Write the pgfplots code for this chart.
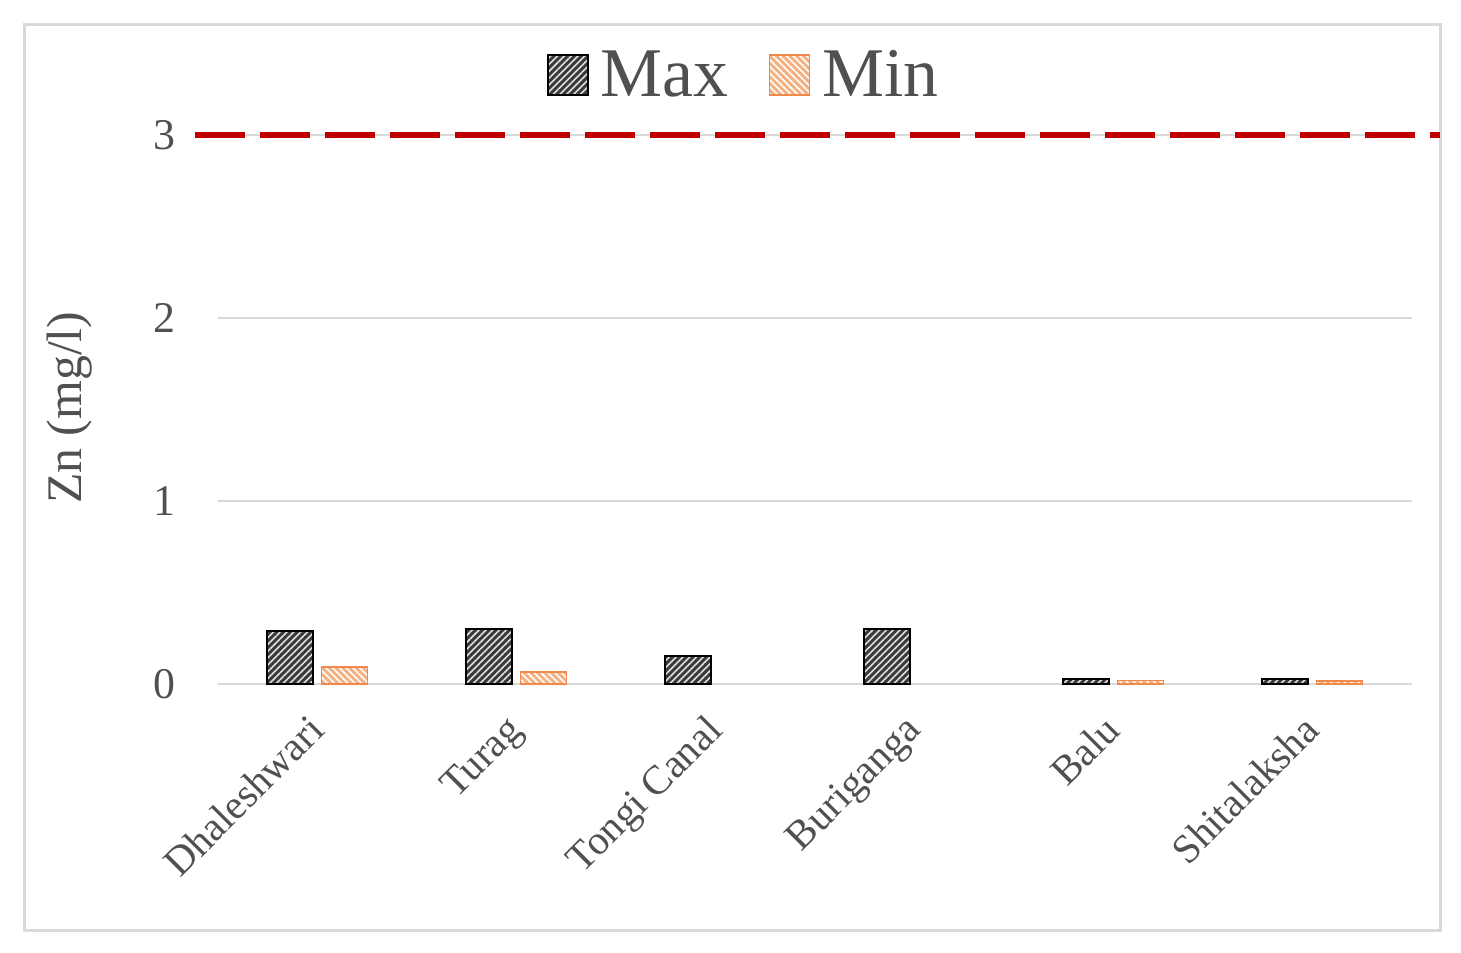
\documentclass[border=0pt]{standalone}
\usepackage{pgfplots}
\pgfplotsset{compat=1.18}
\usepackage{fontspec}
\setmainfont{Liberation Serif}
\usetikzlibrary{patterns.meta}
\definecolor{txt}{HTML}{505050}
\definecolor{maxfill}{HTML}{3A3A3A}
\definecolor{minfill}{HTML}{F4B183}
\definecolor{minedge}{HTML}{F08A4B}
\definecolor{gridc}{HTML}{D9D9D9}
\definecolor{limred}{HTML}{C00000}
\begin{document}
\begin{tikzpicture}
\useasboundingbox (-109bp,-134.5bp) rectangle (621.5bp,342bp);
\draw[color=gridc, line width=1.5bp] (-96.5bp,-123bp) rectangle (611bp,329.5bp);
\begin{axis}[
  at={(0,0)}, anchor=south west,
  width=597bp, height=274.5bp, scale only axis,
  ybar=4bp, bar width=23bp,
  xmin=-0.5, xmax=5.5, ymin=0, ymax=3,
  xtick={0,1,2,3,4,5},
  xticklabels={Dhaleshwari,Turag,Tongi Canal,Buriganga,Balu,Shitalaksha},
  ytick={0,1,2,3},
  axis x line*=bottom, axis y line*=left,
  x axis line style={draw=gridc, line width=1bp},
  y axis line style={draw=none},
  ymajorgrids, grid style={draw=gridc, line width=1bp},
  major tick length=0pt,
  tick label style={font=\fontsize{22}{26}\selectfont, text=txt},
  /pgf/number format/assume math mode=true,
  xticklabel style={rotate=45, anchor=north east, inner sep=2bp, xshift=-12bp, yshift=-4bp, font=\fontsize{20.5}{24}\selectfont},
  yticklabel style={xshift=-18bp},
  ylabel={Zn (mg/l)},
  ylabel style={at={(rel axis cs:0,0.503)}, anchor=center, yshift=74bp, font=\fontsize{25}{30}\selectfont, text=txt},
  clip=false,
  legend style={at={(0.441,1.109)}, anchor=center, draw=none, fill=none,
    font=\fontsize{35}{40}\selectfont, text=txt, legend columns=2,
    /tikz/every even column/.append style={column sep=18bp},
    /tikz/every odd column/.append style={column sep=4bp}},
  legend image code/.code={\draw[#1] (0bp,-10bp) rectangle (20bp,10bp);},
]
\addplot[fill=maxfill, draw=black, line width=1bp,
  postaction={pattern={Lines[angle=45,distance=2.4bp,line width=0.8bp]}, pattern color=white!75!gray}]
  coordinates {(0,0.29) (1,0.30) (2,0.153) (3,0.30) (4,0.03) (5,0.025)};
\addlegendentry{Max}
\addplot[fill=minfill, draw=minedge, line width=0.8bp,
  postaction={pattern={Lines[angle=-45,distance=2.4bp,line width=0.8bp]}, pattern color=white}]
  coordinates {(0,0.093) (1,0.065) (4,0.02) (5,0.015)};
\addlegendentry{Min}
\addplot[ybar=0pt, sharp plot, draw=limred, line width=2.8bp, dash pattern=on 25bp off 7.5bp, forget plot]
  coordinates {(-0.616,3) (5.64,3)};
\end{axis}
\end{tikzpicture}
\end{document}
